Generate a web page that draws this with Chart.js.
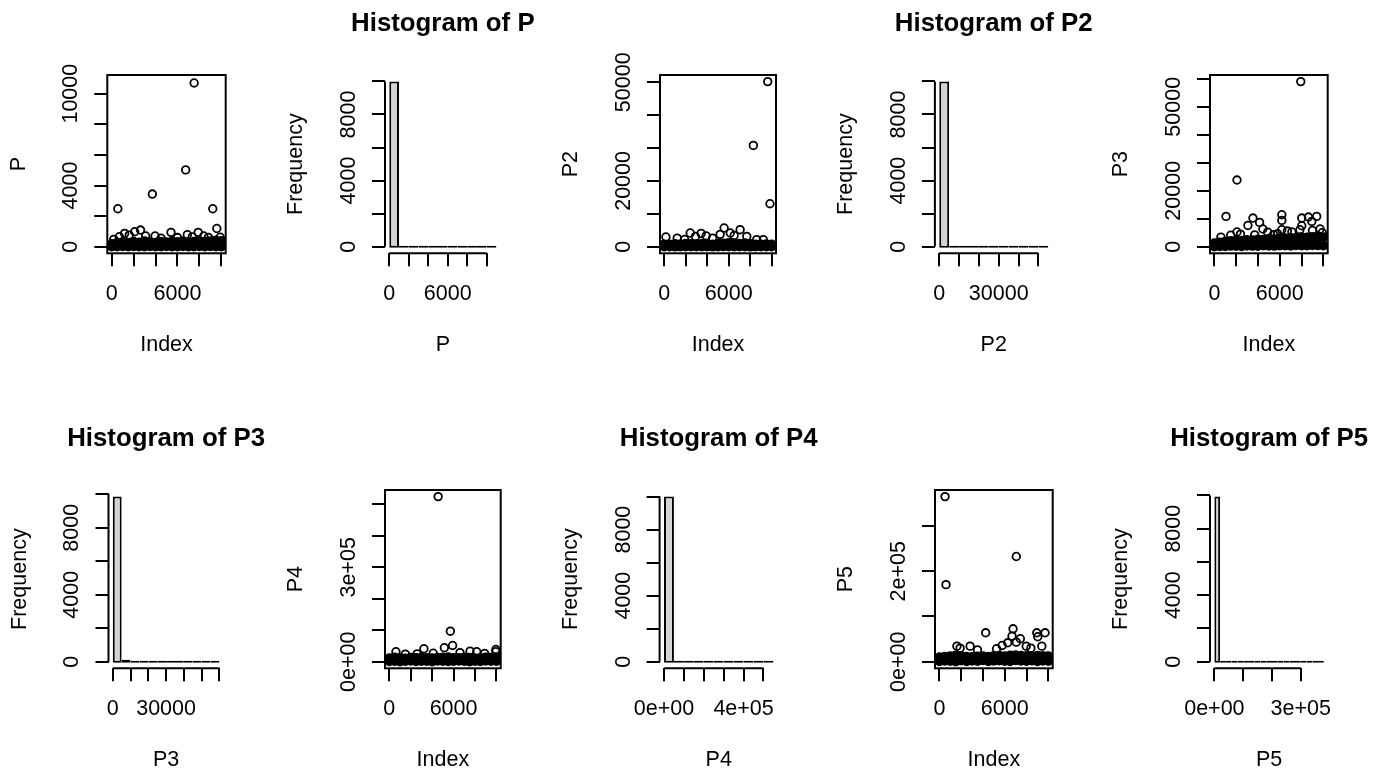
<!DOCTYPE html>
<html>
<head>
<meta charset="utf-8">
<title>Index plots and histograms of P to P5</title>
<script src="https://cdn.jsdelivr.net/npm/chart.js@4.4.1/dist/chart.umd.min.js"></script>
<style>
  html, body { margin: 0; padding: 0; background: #fff; overflow: hidden; }
  body { width: 1381px; height: 769px; position: relative; }
  canvas { position: absolute; left: 0; top: 0; }
</style>
</head>
<body>
<script>
// ---- data ----

// index positions used for the dense mass of small values in the index plots
const bandIdx = [0, 500, 1000, 1500, 2000, 2500, 3000, 3500, 4000, 4500, 5000, 5500, 6000, 6500, 7000, 7500, 8000, 8500, 9000, 9500, 10000];

// P
const pLo = [20, 10, 30, 15, 25, 10, 20, 30, 15, 10, 25, 20, 15, 30, 10, 20, 25, 15, 30, 20, 10];
const pHi = [180, 260, 310, 240, 330, 280, 350, 300, 260, 320, 290, 340, 310, 360, 300, 330, 380, 320, 350, 400, 370];
const pIdx = [560, 3710, 6750, 7520, 9220, 9590, 190, 700, 1180, 1600, 2100, 2630, 3100, 3960, 4500, 5410, 6000, 6900, 7350, 7890, 8400, 8820, 9900];
const pVal = [2480, 3440, 5020, 10700, 2480, 1190, 480, 650, 870, 760, 980, 1090, 700, 700, 560, 940, 600, 790, 640, 940, 700, 610, 620];

// P2
const p2Lo = [50, 80, 30, 60, 90, 40, 70, 50, 80, 30, 60, 100, 40, 70, 90, 50, 30, 80, 60, 40, 70];
const p2Hi = [700, 650, 800, 720, 900, 850, 760, 880, 820, 700, 950, 1000, 1100, 980, 900, 1050, 850, 700, 650, 720, 680];
const p2Idx = [8290, 9630, 9840, 150, 1200, 1900, 2410, 2900, 3430, 3900, 4500, 5200, 5570, 6140, 6500, 7060, 7680, 8600, 9220];
const p2Val = [30790, 50200, 13070, 2950, 2600, 2200, 4160, 3100, 4050, 3300, 2600, 3750, 5680, 4160, 3400, 5170, 3130, 2130, 2130];

// P3
const p3Lo = [100, 200, 150, 300, 250, 200, 350, 300, 250, 400, 350, 300, 450, 400, 350, 500, 450, 400, 550, 500, 450];
const p3Hi = [1200, 1500, 1800, 2000, 2200, 2100, 2400, 2300, 2600, 2500, 2800, 2700, 3000, 2900, 3200, 3100, 3400, 3300, 3500, 3600, 3400];
const p3Idx = [7930, 2075, 1070, 3540, 3080, 4150, 4450, 6190, 6190, 6190, 8020, 8630, 9390, 9700, 8020, 7110, 2075, 5430, 7850, 8940, 2400, 3700, 4900, 5800, 6700, 9000, 9900, 1500, 600];
const p3Val = [59000, 23820, 10830, 10240, 7600, 8680, 6320, 11430, 9390, 6070, 10240, 10600, 10830, 6320, 7500, 5250, 5250, 4290, 6070, 9040, 4500, 4200, 5200, 4600, 5600, 5800, 5000, 4100, 3400];

// P4
const p4Lo = [1500, 2500, 1000, 2000, 3000, 1500, 2500, 2000, 1000, 3000, 2500, 1500, 2000, 3000, 2500, 1000, 2000, 1500, 3000, 2500, 2000];
const p4Hi = [11000, 13000, 12000, 10500, 12500, 11500, 13500, 12000, 11000, 12500, 13000, 14000, 12000, 11500, 13000, 12500, 11000, 12000, 13500, 12500, 12000];
const p4Idx = [4560, 5700, 5910, 5140, 3230, 620, 7540, 8160, 9950, 9950, 1500, 2600, 4100, 6600, 8900];
const p4Val = [525000, 97000, 51600, 44300, 41100, 31600, 33500, 31600, 38900, 31600, 24000, 25000, 27000, 29000, 26000];

// P5
const p5Lo = [1000, 2000, 1500, 500, 2500, 1000, 2000, 1500, 3000, 1000, 2000, 2500, 1500, 1000, 3000, 2000, 1500, 2500, 1000, 2000, 1500];
const p5Hi = [10000, 11000, 12000, 13500, 12500, 11000, 10500, 11500, 12000, 11000, 12500, 13000, 12000, 13500, 14000, 13000, 12500, 12000, 13000, 12500, 12000];
const p5Idx = [520, 610, 7060, 4250, 6760, 6670, 7430, 8940, 9700, 9030, 5760, 6270, 7970, 1610, 2820, 9400, 5250, 7060, 1900, 3500, 8400];
const p5Val = [365000, 170300, 232600, 63900, 72700, 56400, 50700, 63900, 63900, 55100, 35900, 41800, 34400, 34400, 34400, 34400, 28600, 43200, 30000, 26000, 30000];

// histogram breaks and counts
const brP = [0, 1000, 2000, 3000, 4000, 5000, 6000, 7000, 8000, 9000, 10000, 11000];
const cntP = [9988, 6, 2, 1, 0, 1, 0, 0, 0, 0, 1];
const brP2 = [0, 5000, 10000, 15000, 20000, 25000, 30000, 35000, 40000, 45000, 50000, 55000];
const cntP2 = [9989, 6, 1, 0, 0, 0, 1, 0, 0, 0, 1];
const brP3 = [0, 5000, 10000, 15000, 20000, 25000, 30000, 35000, 40000, 45000, 50000, 55000, 60000];
const cntP3 = [9860, 120, 16, 0, 1, 0, 0, 0, 0, 0, 0, 1];
const brP4 = [0, 50000, 100000, 150000, 200000, 250000, 300000, 350000, 400000, 450000, 500000, 550000];
const cntP4 = [9997, 1, 0, 0, 0, 0, 0, 0, 0, 0, 1];
const brP5 = [0, 20000, 40000, 60000, 80000, 100000, 120000, 140000, 160000, 180000, 200000, 220000, 240000, 260000, 280000, 300000, 320000, 340000, 360000, 380000];
const cntP5 = [9930, 45, 14, 7, 0, 0, 0, 0, 1, 0, 0, 1, 0, 0, 0, 0, 0, 0, 1];

// tick values and tick labels (R drops labels that would overlap)
const idxTicks = [0, 2000, 4000, 6000, 8000, 10000];
const idxLabels = ['0', '', '', '6000', '', ''];
const freqTicks = [0, 2000, 4000, 6000, 8000, 10000];
const freqLabels = ['0', '', '4000', '', '8000', ''];
const pTicks = [0, 2000, 4000, 6000, 8000, 10000];
const pLabels = ['0', '', '4000', '', '', '10000'];
const p2Ticks = [0, 10000, 20000, 30000, 40000, 50000];
const p2Labels = ['0', '', '20000', '', '', '50000'];
const p2HistLabels = ['0', '', '', '30000', '', ''];
const p3Ticks = [0, 10000, 20000, 30000, 40000, 50000, 60000];
const p3Labels = ['0', '', '20000', '', '', '50000', ''];
const p3HistLabels = ['0', '', '', '30000', '', '', ''];
const p4Ticks = [0, 100000, 200000, 300000, 400000, 500000];
const p4Labels = ['0e+00', '', '', '3e+05', '', ''];
const p4HistLabels = ['0e+00', '', '', '', '4e+05', ''];
const p5Ticks = [0, 100000, 200000, 300000];
const p5Labels = ['0e+00', '', '2e+05', ''];
const p5HistLabels = ['0e+00', '', '', '3e+05'];

// ---- layout ----
const FAM = '"Liberation Sans", Arial, Helvetica, sans-serif';
const AX_SIZE = 21.5, MAIN_SIZE = 25.8;
const TL = 13, LW = 2;
const Y_LAB_DIST = 36, X_LAB_DIST = 40.5, Y_TITLE_DIST = 88.5, X_TITLE_DIST = 92, MAIN_DIST = 51;
const CW = 1500, CH = 800;
// bars start one pixel under the zero line so empty bins show as a 2px rule on it
const BAR_BASE = -60;
const ROW1 = { T: 75, B: 253.3 }, ROW2 = { T: 490, B: 668.3 };

const panels = [
  { kind: 'scatter', L: 107.3, R: 225.7, ...ROW1, xMin: -400, xMax: 10400, yMin: -430, yMax: 11220,
    xT: idxTicks, xLab: idxLabels, yT: pTicks, yLab: pLabels, xTitle: 'Index', yTitle: 'P', lo: pLo, hi: pHi, idx: pIdx, val: pVal },
  { kind: 'hist', main: 'Histogram of P', L: 385, R: 500.7, ...ROW1, xMin: -440, xMax: 11440, yMin: -400, yMax: 10388,
    xT: idxTicks, xLab: idxLabels, yT: freqTicks, yLab: freqLabels, xTitle: 'P', yTitle: 'Frequency', breaks: brP, counts: cntP },
  { kind: 'scatter', L: 660, R: 776, ...ROW1, xMin: -400, xMax: 10400, yMin: -2008, yMax: 52208,
    xT: idxTicks, xLab: idxLabels, yT: p2Ticks, yLab: p2Labels, xTitle: 'Index', yTitle: 'P2', lo: p2Lo, hi: p2Hi, idx: p2Idx, val: p2Val },
  { kind: 'hist', main: 'Histogram of P2', L: 934.9, R: 1052.6, ...ROW1, xMin: -2200, xMax: 57200, yMin: -400, yMax: 10389,
    xT: p2Ticks, xLab: p2HistLabels, yT: freqTicks, yLab: freqLabels, xTitle: 'P2', yTitle: 'Frequency', breaks: brP2, counts: cntP2 },
  { kind: 'scatter', L: 1210, R: 1327.7, ...ROW1, xMin: -400, xMax: 10400, yMin: -2360, yMax: 61360,
    xT: idxTicks, xLab: idxLabels, yT: p3Ticks, yLab: p3Labels, xTitle: 'Index', yTitle: 'P3', lo: p3Lo, hi: p3Hi, idx: p3Idx, val: p3Val },
  { kind: 'hist', main: 'Histogram of P3', L: 108.5, R: 223.7, ...ROW2, xMin: -2400, xMax: 62400, yMin: -394, yMax: 10254,
    xT: p3Ticks, xLab: p3HistLabels, yT: freqTicks, yLab: freqLabels, xTitle: 'P3', yTitle: 'Frequency', breaks: brP3, counts: cntP3 },
  { kind: 'scatter', L: 385, R: 500.7, ...ROW2, xMin: -400, xMax: 10400, yMin: -21000, yMax: 546000,
    xT: idxTicks, xLab: idxLabels, yT: p4Ticks, yLab: p4Labels, xTitle: 'Index', yTitle: 'P4', lo: p4Lo, hi: p4Hi, idx: p4Idx, val: p4Val },
  { kind: 'hist', main: 'Histogram of P4', L: 659.6, R: 777.8, ...ROW2, xMin: -22000, xMax: 572000, yMin: -400, yMax: 10397,
    xT: p4Ticks, xLab: p4HistLabels, yT: freqTicks, yLab: freqLabels, xTitle: 'P4', yTitle: 'Frequency', breaks: brP4, counts: cntP4 },
  { kind: 'scatter', L: 935, R: 1052.7, ...ROW2, xMin: -400, xMax: 10400, yMin: -14600, yMax: 379600,
    xT: idxTicks, xLab: idxLabels, yT: p5Ticks, yLab: p5Labels, xTitle: 'Index', yTitle: 'P5', lo: p5Lo, hi: p5Hi, idx: p5Idx, val: p5Val },
  { kind: 'hist', main: 'Histogram of P5', L: 1210, R: 1328.2, ...ROW2, xMin: -15200, xMax: 395200, yMin: -397, yMax: 10327,
    xT: p5Ticks, xLab: p5HistLabels, yT: freqTicks, yLab: freqLabels, xTitle: 'P5', yTitle: 'Frequency', breaks: brP5, counts: cntP5 }
];

// box round the index plots, axis lines from first to last tick for histograms
const rFrame = {
  id: 'rFrame',
  afterDatasetsDraw(chart, args, opts) {
    const { ctx, chartArea: a, scales: { x, y } } = chart;
    ctx.save();
    ctx.strokeStyle = '#000';
    ctx.lineWidth = LW;
    if (opts.box) {
      ctx.strokeRect(a.left, a.top, a.right - a.left, a.bottom - a.top);
    } else {
      const xt = x.ticks, yt = y.ticks;
      ctx.beginPath();
      ctx.moveTo(a.left, y.getPixelForValue(yt[0].value));
      ctx.lineTo(a.left, y.getPixelForValue(yt[yt.length - 1].value));
      ctx.moveTo(x.getPixelForValue(xt[0].value), a.bottom);
      ctx.lineTo(x.getPixelForValue(xt[xt.length - 1].value), a.bottom);
      ctx.stroke();
    }
    ctx.restore();
  }
};

const mctx = document.createElement('canvas').getContext('2d');
function widest(labels) {
  mctx.font = AX_SIZE + 'px ' + FAM;
  return Math.max(...labels.map(s => mctx.measureText(s).width));
}

function makePanel(p) {
  const cv = document.createElement('canvas');
  cv.width = CW; cv.height = CH;
  cv.style.width = CW + 'px'; cv.style.height = CH + 'px';
  document.body.appendChild(cv);

  const hist = p.kind === 'hist';
  const axFont = { family: FAM, size: AX_SIZE, lineHeight: 1.2 };
  const axLH = AX_SIZE * 1.2;
  const mainLH = MAIN_SIZE * 1.2;
  const yPad = Y_LAB_DIST - TL - widest(p.yLab) / 2;
  const xPad = X_LAB_DIST - TL - axLH / 2;
  const wy = Y_TITLE_DIST + axLH / 2;
  const hx = X_TITLE_DIST + axLH / 2;
  const padTop = hist ? p.T - MAIN_DIST - mainLH / 2 : p.T;

  let datasets;
  if (hist) {
    const mids = p.breaks.slice(0, -1).map((b, i) => (b + p.breaks[i + 1]) / 2);
    datasets = [{
      data: mids.map((m, i) => ({ x: m, y: p.counts[i] })),
      base: BAR_BASE,
      backgroundColor: '#d3d3d3', borderColor: '#000', borderWidth: LW,
      borderSkipped: false, minBarLength: 2, inflateAmount: 0,
      barPercentage: 1, categoryPercentage: 1
    }];
  } else {
    const band = bandIdx.map((x, i) => ({ x, y: p.lo[i] })).concat(bandIdx.map((x, i) => ({ x, y: p.hi[i] })));
    datasets = [
      { data: band, pointRadius: 5, pointBorderWidth: 0, pointBackgroundColor: '#000' },
      { data: p.idx.map((x, i) => ({ x, y: p.val[i] })), pointRadius: 3.8, pointBorderWidth: 1.8,
        pointBorderColor: '#000', pointBackgroundColor: 'rgba(0,0,0,0)' }
    ];
  }

  const tickGrid = { display: true, drawOnChartArea: false, drawTicks: true, tickLength: TL,
    tickWidth: LW, tickColor: '#000', color: '#000', lineWidth: LW, offset: false };

  new Chart(cv, {
    type: hist ? 'bar' : 'scatter',
    data: { datasets },
    options: {
      responsive: false,
      animation: false,
      events: [],
      layout: { padding: { left: p.L - wy, right: CW - p.R - wy, top: padTop, bottom: CH - p.B - hx } },
      plugins: {
        legend: { display: false },
        tooltip: { enabled: false },
        title: {
          display: hist, text: p.main || '', color: '#000',
          font: { family: FAM, size: MAIN_SIZE, weight: 'bold', lineHeight: 1.2 },
          padding: { top: 0, bottom: MAIN_DIST - mainLH / 2 }
        },
        rFrame: { box: !hist }
      },
      scales: {
        x: {
          type: 'linear', position: 'bottom', min: p.xMin, max: p.xMax, offset: false,
          afterBuildTicks: s => { s.ticks = p.xT.map(v => ({ value: v })); },
          afterFit: s => { s.height = hx; },
          grid: tickGrid,
          border: { display: false },
          ticks: { autoSkip: false, maxRotation: 0, minRotation: 0, padding: xPad, color: '#000', font: axFont,
            callback: (v, i) => p.xLab[i] },
          title: { display: true, text: p.xTitle, color: '#000', font: axFont, padding: 0 }
        },
        y: {
          type: 'linear', position: 'left', min: p.yMin, max: p.yMax,
          afterBuildTicks: s => { s.ticks = p.yT.map(v => ({ value: v })); },
          afterFit: s => { s.width = wy; },
          grid: tickGrid,
          border: { display: false },
          ticks: { autoSkip: false, minRotation: 90, maxRotation: 90, crossAlign: 'center', padding: yPad,
            color: '#000', font: axFont, callback: (v, i) => p.yLab[i] },
          title: { display: true, text: p.yTitle, color: '#000', font: axFont, padding: 0 }
        },
        yPad: {
          type: 'linear', position: 'right', display: true,
          grid: { display: false }, border: { display: false }, ticks: { display: false },
          afterFit: s => { s.width = wy; }
        }
      }
    },
    plugins: [rFrame]
  });
}

panels.forEach(makePanel);
</script>
</body>
</html>
